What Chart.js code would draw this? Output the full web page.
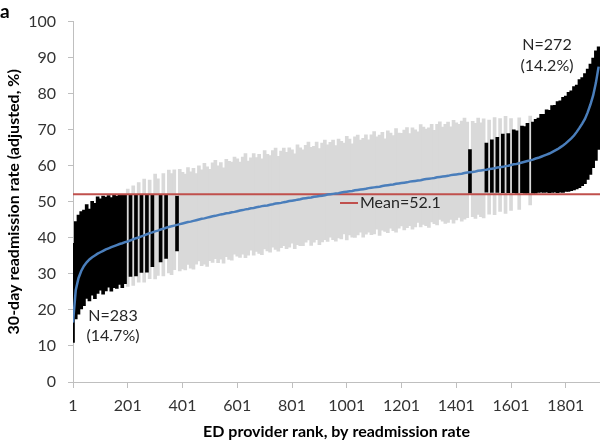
<!DOCTYPE html>
<html>
<head>
<meta charset="utf-8">
<script src="https://cdn.jsdelivr.net/npm/chart.js@4"></script>
<style>
  body { margin: 0; background: #fff; }
  #wrap { width: 600px; height: 442px; position: relative; }
</style>
</head>
<body>
<div id="wrap"><canvas id="chart_rank"></canvas></div>
<script>
// ranks are sampled every 10 providers (rank 1, 11, 21, ... 1921)
var firstRank = 1;
var rankStep = 10;
var meanRate = 52.1;
var xTicks = [1, 201, 401, 601, 801, 1001, 1201, 1401, 1601, 1801];
var lowSig = ['N=283', '(14.7%)'];
var highSig = ['N=272', '(14.2%)'];

// adjusted 30-day readmission rate (point estimate, %)
var estimate = [
	16.5, 25.5, 28.8, 30.8, 32.2, 33.2, 34.0, 34.6, 35.1, 35.6,
	36.0, 36.4, 36.8, 37.1, 37.4, 37.7, 38.0, 38.3, 38.5, 38.8,
	39.0, 39.3, 39.6, 39.9, 40.1, 40.4, 40.7, 41.0, 41.3, 41.5,
	41.8, 42.0, 42.3, 42.5, 42.8, 43.0, 43.2, 43.4, 43.6, 43.8,
	44.0, 44.2, 44.4, 44.5, 44.7, 44.9, 45.1, 45.3, 45.4, 45.6,
	45.8, 46.0, 46.1, 46.3, 46.5, 46.6, 46.8, 46.9, 47.1, 47.2,
	47.4, 47.6, 47.7, 47.9, 48.0, 48.2, 48.3, 48.5, 48.6, 48.8,
	48.9, 49.0, 49.2, 49.3, 49.5, 49.6, 49.7, 49.9, 50.0, 50.2,
	50.3, 50.4, 50.6, 50.7, 50.9, 51.0, 51.1, 51.2, 51.4, 51.5,
	51.6, 51.7, 51.8, 52.0, 52.1, 52.2, 52.3, 52.4, 52.6, 52.7,
	52.8, 52.9, 53.0, 53.2, 53.3, 53.4, 53.5, 53.6, 53.8, 53.9,
	54.0, 54.1, 54.2, 54.4, 54.5, 54.6, 54.7, 54.8, 55.0, 55.1,
	55.2, 55.3, 55.4, 55.6, 55.7, 55.8, 55.9, 56.0, 56.2, 56.3,
	56.4, 56.5, 56.6, 56.8, 56.9, 57.0, 57.1, 57.2, 57.4, 57.5,
	57.6, 57.7, 57.8, 58.0, 58.1, 58.2, 58.3, 58.4, 58.6, 58.7,
	58.8, 58.9, 59.1, 59.2, 59.3, 59.5, 59.6, 59.7, 59.9, 60.0,
	60.2, 60.4, 60.5, 60.7, 60.9, 61.1, 61.3, 61.5, 61.7, 62.0,
	62.2, 62.5, 62.8, 63.1, 63.4, 63.8, 64.2, 64.6, 65.1, 65.6,
	66.2, 66.9, 67.6, 68.4, 69.4, 70.5, 71.7, 73.0, 74.8, 77.0,
	79.5, 83.0, 87.5
];

// distance from the estimate down to the lower 95% limit
var errLow = [
	5.5, 8.0, 10.0, 10.5, 11.0, 10.0, 11.5, 10.5, 12.0, 11.0,
	10.5, 12.0, 11.5, 10.8, 12.2, 11.5, 12.0, 11.2, 12.3, 11.5,
	12.5, 10.0, 12.8, 10.5, 12.4, 10.0, 13.0, 10.5, 12.6, 9.5,
	13.2, 12.4, 9.0, 13.1, 8.5, 12.7, 13.4, 12.2, 7.2, 13.0,
	12.6, 13.1, 11.8, 12.9, 13.4, 12.2, 11.5, 13.0, 12.7, 13.5,
	12.1, 12.8, 11.9, 13.2, 12.4, 13.6, 12.0, 12.9, 13.3, 11.7,
	12.5, 13.0, 12.2, 13.4, 12.8, 11.6, 13.1, 12.3, 12.9, 13.5,
	12.0, 12.6, 13.2, 11.9, 12.7, 13.3, 12.4, 12.1, 13.0, 12.8,
	11.8, 13.4, 12.5, 12.9, 13.1, 12.2, 11.7, 13.3, 12.6, 12.0,
	13.5, 12.8, 12.3, 13.0, 11.9, 12.7, 13.2, 12.4, 12.9, 11.6,
	13.4, 12.1, 12.8, 13.1, 12.5, 11.8, 13.3, 12.6, 12.2, 13.0,
	12.9, 11.7, 13.5, 12.3, 12.7, 13.2, 12.0, 12.8, 13.4, 12.4,
	11.9, 13.1, 12.6, 12.2, 13.3, 12.8, 11.6, 13.0, 12.5, 12.9,
	13.5, 12.1, 12.7, 13.2, 11.8, 12.4, 13.1, 12.9, 12.3, 13.4,
	12.6, 12.0, 13.2, 12.8, 12.5, 5.8, 12.4, 13.0, 12.1, 12.8,
	13.3, 6.2, 12.5, 6.6, 12.9, 6.9, 12.3, 7.2, 13.1, 7.5,
	12.6, 7.9, 8.1, 12.8, 8.4, 8.7, 8.9, 12.4, 9.3, 9.6,
	9.6, 9.8, 10.2, 10.4, 10.9, 11.2, 11.5, 12.1, 12.4, 13.0,
	13.3, 14.0, 14.5, 15.1, 15.8, 16.6, 17.2, 18.0, 18.6, 19.4,
	20.0, 21.5, 23.0
];

// distance from the estimate up to the upper 95% limit
var errHigh = [
	22.0, 19.0, 17.5, 16.5, 15.5, 16.0, 14.0, 15.5, 14.5, 15.8,
	14.8, 15.2, 14.5, 14.6, 13.8, 14.2, 13.6, 13.5, 13.4, 13.1,
	14.5, 12.5, 14.8, 12.0, 15.2, 11.5, 15.6, 10.9, 14.7, 10.3,
	15.9, 14.4, 9.6, 15.3, 9.0, 15.8, 14.6, 15.5, 8.0, 15.2,
	14.2, 13.5, 15.1, 13.8, 14.6, 12.9, 14.9, 13.6, 15.3, 14.1,
	13.2, 14.8, 15.4, 13.7, 14.4, 12.8, 15.0, 14.3, 13.9, 15.2,
	14.5, 13.4, 14.7, 15.5, 13.3, 14.0, 15.1, 13.8, 14.6, 13.1,
	15.3, 14.2, 13.6, 14.9, 15.4, 13.0, 14.4, 15.0, 13.7, 14.8,
	14.1, 12.9, 15.2, 14.3, 13.5, 14.7, 15.5, 13.9, 14.0, 15.1,
	13.2, 14.6, 15.3, 13.8, 14.4, 14.9, 13.3, 15.0, 14.2, 13.6,
	15.4, 14.5, 13.1, 14.8, 15.2, 13.7, 14.1, 15.0, 13.4, 14.7,
	15.5, 13.9, 14.3, 14.9, 13.0, 15.1, 14.4, 13.6, 15.3, 14.0,
	13.8, 14.6, 15.2, 13.3, 14.8, 14.2, 13.5, 15.4, 14.5, 13.9,
	14.1, 15.0, 13.2, 14.7, 15.3, 13.7, 14.4, 14.9, 13.4, 15.1,
	14.3, 13.8, 14.6, 15.2, 14.0, 6.3, 14.0, 13.4, 14.6, 13.2,
	14.2, 7.4, 13.6, 8.0, 14.1, 8.4, 13.5, 9.1, 13.8, 8.9,
	12.9, 9.6, 9.2, 12.6, 10.1, 9.8, 10.5, 12.3, 10.4, 10.9,
	11.0, 11.8, 11.5, 12.4, 12.0, 12.9, 12.6, 13.2, 12.9, 13.4,
	13.1, 13.5, 13.2, 13.6, 13.0, 13.4, 12.8, 12.6, 12.0, 11.2,
	10.4, 8.9, 5.5
];

setup_chart();

/**
 * Caterpillar plot: CI per provider, estimate line and the mean
 */
function setup_chart()
{
	var line_pts = [];
	var ci_gray = [];
	var ci_black = [];

	for(var i = 0; i < estimate.length; i++)
	{
		var rank = firstRank + i * rankStep;
		var lo = estimate[i] - errLow[i];
		var hi = estimate[i] + errHigh[i];
		line_pts.push({ x: rank, y: estimate[i] });

		//significantly different from the mean -> black
		if(hi < meanRate || lo > meanRate)
			ci_black.push({ x: rank, y: [lo, hi] });
		else
			ci_gray.push({ x: rank, y: [lo, hi] });
	}

	var lastRank = firstRank + (estimate.length - 1) * rankStep;

	var tick_font = { family: 'Lato', size: 16 };
	var title_font = { family: 'Lato', size: 16, weight: 'bold' };

	var annotations = {
		id: 'annotations',
		afterDraw: function(chart)
		{
			var ctx = chart.ctx;
			ctx.save();
			ctx.fillStyle = '#000';
			ctx.font = 'bold 19px Lato';
			ctx.textAlign = 'left';
			ctx.textBaseline = 'alphabetic';
			ctx.fillText('a', 0, 18);

			ctx.font = '16px Lato';
			ctx.fillStyle = '#262626';
			ctx.textAlign = 'center';
			ctx.textBaseline = 'middle';
			ctx.fillText(lowSig[0], 113, 316);
			ctx.fillText(lowSig[1], 113, 336);
			ctx.fillText(highSig[0], 547, 45);
			ctx.fillText(highSig[1], 547, 66);

			//mean label
			ctx.strokeStyle = '#c0504d';
			ctx.lineWidth = 2;
			ctx.beginPath();
			ctx.moveTo(340, 203);
			ctx.lineTo(358, 203);
			ctx.stroke();
			ctx.textAlign = 'left';
			ctx.fillText('Mean=' + meanRate, 360, 203);
			ctx.restore();
		}
	};

	var params = {
		type: 'bar',
		data: {
			datasets: [
				{
					type: 'line',
					data: line_pts,
					borderColor: '#4a7ebb',
					borderWidth: 2.5,
					pointRadius: 0,
					order: 0
				},
				{
					type: 'line',
					data: [{ x: firstRank, y: meanRate }, { x: lastRank + 5, y: meanRate }],
					borderColor: '#c0504d',
					borderWidth: 2,
					pointRadius: 0,
					order: 1
				},
				{
					data: ci_black,
					backgroundColor: '#000000',
					barThickness: 3,
					grouped: false,
					order: 2
				},
				{
					data: ci_gray,
					backgroundColor: '#d9d9d9',
					barThickness: 3,
					grouped: false,
					order: 3
				}
			]
		},
		options: {
			responsive: true,
			maintainAspectRatio: false,
			animation: false,
			layout: { padding: { top: 7, right: 0, left: 0, bottom: 0 } },
			plugins: {
				legend: { display: false },
				tooltip: { enabled: false }
			},
			scales: {
				x: {
					type: 'linear',
					min: firstRank,
					max: lastRank + 5,
					offset: false,
					afterBuildTicks: function(scale) {
						scale.ticks = xTicks.map(function(v) { return { value: v }; });
					},
					afterFit: function(scale) { scale.height = 60; },
					ticks: {
						font: tick_font,
						color: '#333',
						padding: 8,
						maxRotation: 0,
						callback: function(v) { return String(v); }
					},
					grid: { drawOnChartArea: false, tickLength: 6, color: '#bfbfbf', offset: false },
					border: { color: '#bfbfbf' },
					title: {
						display: true,
						text: 'ED provider rank, by readmission rate',
						font: title_font,
						color: '#000',
						padding: { top: 0, bottom: 1 }
					}
				},
				y: {
					min: 0,
					max: 100,
					afterFit: function(scale) { scale.width = 73; },
					ticks: { stepSize: 10, font: tick_font, color: '#333', padding: 12 },
					grid: { drawOnChartArea: false, tickLength: 5, color: '#bfbfbf' },
					border: { color: '#bfbfbf' },
					title: {
						display: true,
						text: '30-day readmission rate (adjusted, %)',
						font: title_font,
						color: '#000',
						padding: { top: 4, bottom: 0 }
					}
				}
			}
		},
		plugins: [annotations]
	};
	new Chart(document.getElementById('chart_rank'), params);
}
</script>
</body>
</html>
